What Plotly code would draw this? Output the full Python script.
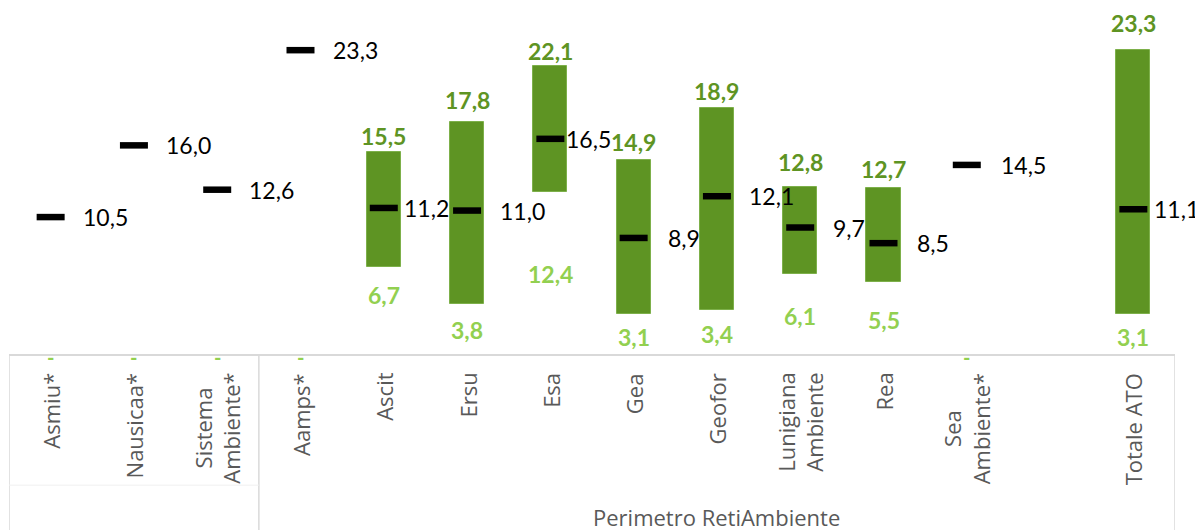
import plotly.graph_objects as go

# ---------------- data ----------------
categories = ["Asmiu*", "Nausicaa*", "Sistema<br>Ambiente*", "Aamps*", "Ascit", "Ersu", "Esa",
              "Gea", "Geofor", "Lunigiana<br>Ambiente", "Rea", "Sea<br>Ambiente*", "", "Totale ATO"]
group_label = "Perimetro RetiAmbiente"
mean_values = [10.5, 16.0, 12.6, 23.3, 11.2, 11.0, 16.5, 8.9, 12.1, 9.7, 8.5, 14.5, None, 11.1]
min_values = [None, None, None, None, 6.7, 3.8, 12.4, 3.1, 3.4, 6.1, 5.5, None, None, 3.1]
max_values = [None, None, None, None, 15.5, 17.8, 22.1, 14.9, 18.9, 12.8, 12.7, None, None, 23.3]

# ---------------- label placement (pixels) ----------------
mean_label_gap = [19, 19, 19, 19, 7, 20, 3, 21, 19, 20, 20, 21, 0, 8]
max_label_shift = [0, 0, 0, 0, 15, 21, 14, 17, 16, 24, 18, 0, 0, 26]
min_label_shift = [0, 0, 0, 0, 29, 27, 83, 24, 25, 43, 39, 0, 0, 24]

DARK_GREEN = "#5E9423"
LIGHT_GREEN = "#92D050"
GRAY = "#595959"
LINE = "#D9D9D9"
VAL_FONT = "Lato"
AX_FONT = "Open Sans"


def fmt(v):
    return f"{v:.1f}".replace(".", ",")


x = list(range(len(categories)))
bx = [i for i in x if min_values[i] is not None]

fig = go.Figure()
fig.add_trace(go.Bar(
    x=bx,
    base=[min_values[i] for i in bx],
    y=[max_values[i] - min_values[i] for i in bx],
    width=0.41,
    marker=dict(color=DARK_GREEN, line=dict(color="#7DB04A", width=1)),
    showlegend=False, hoverinfo="skip",
))
mx = [i for i in x if mean_values[i] is not None]
fig.add_trace(go.Scatter(
    x=mx, y=[mean_values[i] for i in mx], mode="markers",
    marker=dict(symbol="line-ew", size=20, line=dict(color="black", width=6.5)),
    showlegend=False, hoverinfo="skip",
))

ann = []
for i in x:
    if mean_values[i] is not None:
        ann.append(dict(x=i, y=mean_values[i], xref="x", yref="y", text=fmt(mean_values[i]),
                        showarrow=False, xanchor="left", yanchor="middle",
                        xshift=14 + mean_label_gap[i] - 3,
                        font=dict(family=VAL_FONT, size=23, color="black")))
    if max_values[i] is not None:
        ann.append(dict(x=i, y=max_values[i], xref="x", yref="y", text="<b>" + fmt(max_values[i]) + "</b>",
                        showarrow=False, xanchor="center", yanchor="middle",
                        yshift=max_label_shift[i] + 1,
                        font=dict(family=VAL_FONT, size=23, color=DARK_GREEN)))
    if min_values[i] is not None:
        ann.append(dict(x=i, y=min_values[i], xref="x", yref="y", text="<b>" + fmt(min_values[i]) + "</b>",
                        showarrow=False, xanchor="center", yanchor="middle",
                        yshift=-min_label_shift[i] + 1,
                        font=dict(family=VAL_FONT, size=23, color=LIGHT_GREEN)))
    elif mean_values[i] is not None:
        ann.append(dict(x=i, y=0, xref="x", yref="y", text="<b>-</b>",
                        showarrow=False, xanchor="center", yanchor="middle",
                        yshift=-2.5,
                        font=dict(family=VAL_FONT, size=20, color=LIGHT_GREEN)))
    # category labels (rotated, lines centred, end of text toward the axis)
    if categories[i]:
        ann.append(dict(x=i, y=0, xref="x", yref="paper", text=categories[i],
                        showarrow=False, textangle=-90, xanchor="center", yanchor="top",
                        yshift=-17, align="center",
                        font=dict(family=AX_FONT, size=22, color=GRAY)))

ann.append(dict(x=(2.5 + 13.5) / 2, y=-0.471, xref="x", yref="paper", text=group_label,
                showarrow=False, xanchor="center", yanchor="middle",
                font=dict(family=AX_FONT, size=22, color=GRAY)))

shapes = []
for xv in (-0.5, 2.5, 13.5):
    shapes.append(dict(type="line", xref="x", yref="paper", x0=xv, x1=xv, y0=0, y1=-0.6,
                       line=dict(color=LINE, width=1.5)))
shapes.append(dict(type="line", xref="x", yref="paper", x0=-0.5, x1=2.5, y0=-0.379, y1=-0.379,
                   line=dict(color="#F0F0F0", width=1)))

fig.update_layout(
    width=1203, height=530,
    margin=dict(l=1, r=36, t=0, b=184),
    plot_bgcolor="white", paper_bgcolor="white",
    annotations=ann, shapes=shapes,
    bargap=0,
    xaxis=dict(range=[-0.5, 13.5], tickmode="array", tickvals=x, ticktext=categories,
               showticklabels=False, ticks="",
               showline=True, linecolor=LINE, linewidth=1.5,
               showgrid=False, zeroline=False, fixedrange=True),
    yaxis=dict(range=[0, 346 / 13.04], visible=False, showgrid=False, zeroline=False, fixedrange=True),
)

fig.write_html("out.html")
